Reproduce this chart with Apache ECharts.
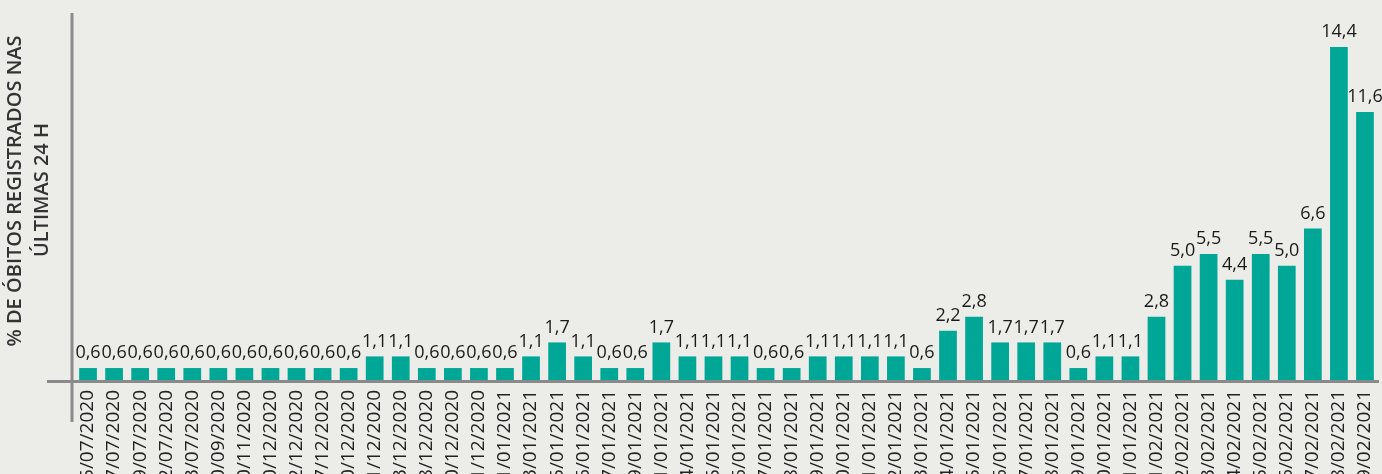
<!DOCTYPE html>
<html>
<head>
<meta charset="utf-8">
<script src="https://cdn.jsdelivr.net/npm/echarts@6/dist/echarts.min.js"></script>
<style>
html,body{margin:0;padding:0;background:#ecece9;}
#c{width:1382px;height:474px;}
</style>
</head>
<body>
<div id="c"></div>
<script>
const categories = [
  "15/07/2020","17/07/2020","19/07/2020","22/07/2020","23/07/2020",
  "30/09/2020","20/11/2020","10/12/2020","12/12/2020","17/12/2020",
  "20/12/2020","21/12/2020","23/12/2020","28/12/2020","30/12/2020",
  "31/12/2020","01/01/2021","03/01/2021","05/01/2021","06/01/2021",
  "07/01/2021","09/01/2021","11/01/2021","14/01/2021","15/01/2021",
  "16/01/2021","17/01/2021","18/01/2021","19/01/2021","20/01/2021",
  "21/01/2021","22/01/2021","23/01/2021","24/01/2021","25/01/2021",
  "26/01/2021","27/01/2021","28/01/2021","29/01/2021","30/01/2021",
  "31/01/2021","01/02/2021","02/02/2021","03/02/2021","04/02/2021",
  "05/02/2021","06/02/2021","07/02/2021","08/02/2021","09/02/2021"
];
const values = [
  0.6,0.6,0.6,0.6,0.6,0.6,0.6,0.6,0.6,0.6,
  0.6,1.1,1.1,0.6,0.6,0.6,0.6,1.1,1.7,1.1,
  0.6,0.6,1.7,1.1,1.1,1.1,0.6,0.6,1.1,1.1,
  1.1,1.1,0.6,2.2,2.8,1.7,1.7,1.7,0.6,1.1,
  1.1,2.8,5.0,5.5,4.4,5.5,5.0,6.6,14.4,11.6
];
const axisTitleLines = ["% DE ÓBITOS REGISTRADOS NAS", "ÚLTIMAS 24 H"];

const chart = echarts.init(document.getElementById('c'));
const F = '"Open Sans", "Noto Sans", sans-serif';
chart.setOption({
  backgroundColor: '#ecece9',
  animation: false,
  grid: {left: 75, right: 4, top: 33, bottom: 92, containLabel: false, outerBoundsMode: 'none'},
  xAxis: {
    type: 'category',
    data: categories,
    axisLine: {show: false},
    axisTick: {show: false},
    axisLabel: {rotate: 90, interval: 0, margin: 8, fontSize: 19, color: '#222', fontFamily: F}
  },
  yAxis: {
    type: 'value', min: 0, max: 15,
    axisLine: {show: false}, axisTick: {show: false},
    axisLabel: {show: false}, splitLine: {show: false}
  },
  graphic: [
    {type: 'line', shape: {x1: 72, y1: 13, x2: 72, y2: 422}, style: {stroke: '#8a8a8a', lineWidth: 3}, z: 10},
    {type: 'line', shape: {x1: 47, y1: 381.5, x2: 1379, y2: 381.5}, style: {stroke: '#8a8a8a', lineWidth: 3}, z: 10},
    {type: 'text', x: 15, y: 191, rotation: Math.PI/2,
     style: {text: axisTitleLines[0], fontSize: 20, fontWeight: 600, fill: '#333', fontFamily: F, textAlign: 'center', textVerticalAlign: 'middle'}},
    {type: 'text', x: 42, y: 190, rotation: Math.PI/2,
     style: {text: axisTitleLines[1], fontSize: 20, fontWeight: 600, fill: '#333', fontFamily: F, textAlign: 'center', textVerticalAlign: 'middle'}}
  ],
  series: [{
    type: 'bar',
    data: values,
    barCategoryGap: '32%',
    itemStyle: {color: '#00a696'},
    label: {
      show: true, position: 'top', distance: 6,
      fontSize: 18, color: '#1a1a1a', fontFamily: F,
      formatter: p => p.value.toFixed(1).replace('.', ',')
    }
  }]
});
</script>
</body>
</html>
